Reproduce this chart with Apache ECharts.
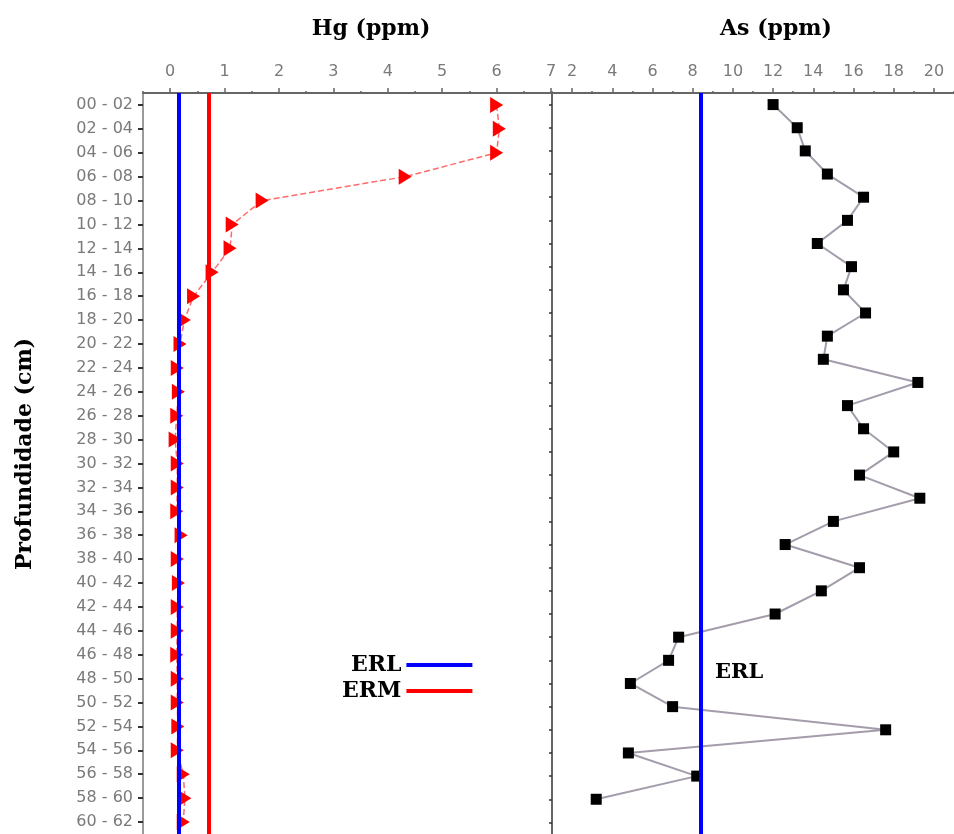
<!DOCTYPE html>
<html>
<head>
<meta charset="utf-8">
<script src="https://cdn.jsdelivr.net/npm/echarts@6/dist/echarts.min.js"></script>
<style>
html,body{margin:0;padding:0;background:#fff;}
#chart{width:954px;height:834px;}
</style>
</head>
<body>
<div id="chart"></div>
<script>
// Depth intervals (cm)
const depth = ['00 - 02','02 - 04','04 - 06','06 - 08','08 - 10','10 - 12','12 - 14','14 - 16','16 - 18','18 - 20',
  '20 - 22','22 - 24','24 - 26','26 - 28','28 - 30','30 - 32','32 - 34','34 - 36','36 - 38','38 - 40',
  '40 - 42','42 - 44','44 - 46','46 - 48','48 - 50','50 - 52','52 - 54','54 - 56','56 - 58','58 - 60','60 - 62'];
// Right panel uses one more (unlabelled) interval slot
const depthAs = depth.concat(['62 - 64']);

// Hg (ppm)
const hgPpm = [6.0, 6.05, 6.0, 4.32, 1.69, 1.14, 1.10, 0.77, 0.43, 0.26,
  0.18, 0.13, 0.15, 0.12, 0.09, 0.13, 0.13, 0.12, 0.20, 0.13,
  0.15, 0.13, 0.13, 0.12, 0.13, 0.13, 0.14, 0.13, 0.24, 0.27, 0.24];
// As (ppm)
const asPpm = [12.0, 13.2, 13.6, 14.7, 16.5, 15.7, 14.2, 15.9, 15.5, 16.6,
  14.7, 14.5, 19.2, 15.7, 16.5, 18.0, 16.3, 19.3, 15.0, 12.6,
  16.3, 14.4, 12.1, 7.3, 6.8, 4.9, 7.0, 17.6, 4.8, 8.2, 3.2];

// Guideline values
const hgERL = 0.15;
const hgERM = 0.71;
const asERL = 8.4;

// Tick values
const hgTicks = [0, 1, 2, 3, 4, 5, 6, 7];
const hgMinorTicks = [-0.5, 0.5, 1.5, 2.5, 3.5, 4.5, 5.5, 6.5];
const asTicks = [2, 4, 6, 8, 10, 12, 14, 16, 18, 20];
const asMinorTicks = [1, 3, 5, 7, 9, 11, 13, 15, 17, 19, 21];

const labelFont = { color: '#7a7a7a', fontFamily: 'DejaVu Sans', fontSize: 16 };
const serifBold = { fontFamily: 'DejaVu Serif', fontWeight: 'bold', color: '#000' };

function mainX(grid, min, max, ticks) {
  return {
    type: 'value', gridIndex: grid, position: 'top', min: min, max: max,
    axisLine: { show: true, onZero: false, lineStyle: { color: '#666', width: 2 } },
    axisTick: { show: true, customValues: ticks, length: 5, lineStyle: { color: '#666', width: 1.5 } },
    axisLabel: Object.assign({ customValues: ticks, margin: 13 }, labelFont),
    splitLine: { show: false }
  };
}
function minorX(grid, min, max, ticks) {
  return {
    type: 'value', gridIndex: grid, position: 'top', min: min, max: max,
    axisLine: { show: false, onZero: false },
    axisTick: { show: true, customValues: ticks, length: 2, lineStyle: { color: '#666', width: 1.5 } },
    axisLabel: { show: false },
    splitLine: { show: false }
  };
}

const chart = echarts.init(document.getElementById('chart'), null, { renderer: 'canvas' });
chart.setOption({
  animation: false,
  backgroundColor: '#ffffff',
  title: [
    { text: 'Hg (ppm)', left: 366, top: 13, textAlign: 'center',
      textStyle: Object.assign({ fontSize: 22 }, serifBold) },
    { text: 'As (ppm)', left: 771, top: 13, textAlign: 'center',
      textStyle: Object.assign({ fontSize: 22 }, serifBold) }
  ],
  grid: [
    { left: 143, top: 93, width: 408, height: 745 },
    { left: 552, top: 93, width: 406, height: 745 }
  ],
  xAxis: [
    mainX(0, -0.5, 7, hgTicks),
    minorX(0, -0.5, 7, hgMinorTicks),
    mainX(1, 1, 21, asTicks),
    minorX(1, 1, 21, asMinorTicks)
  ],
  yAxis: [
    { type: 'category', gridIndex: 0, data: depth, inverse: true,
      axisLine: { show: true, onZero: false, lineStyle: { color: '#9a9a9a', width: 2 } },
      axisTick: { show: true, alignWithLabel: true, length: 5, lineStyle: { color: '#333', width: 2 } },
      axisLabel: Object.assign({ margin: 10, interval: 0 }, labelFont),
      splitLine: { show: false } },
    { type: 'category', gridIndex: 1, data: depthAs, inverse: true,
      axisLine: { show: true, onZero: false, lineStyle: { color: '#666', width: 2 } },
      axisTick: { show: true, alignWithLabel: true, interval: 0, length: 3, lineStyle: { color: '#333', width: 1.5 } },
      axisLabel: { show: false },
      splitLine: { show: false } }
  ],
  legend: {
    data: ['ERL', 'ERM'], orient: 'vertical', left: 337, top: 649, align: 'right',
    icon: 'rect', itemWidth: 66, itemHeight: 4, itemGap: 4,
    textStyle: Object.assign({ fontSize: 22 }, serifBold),
    selectedMode: false
  },
  series: [
    { name: 'Hg', type: 'line', xAxisIndex: 0, yAxisIndex: 0, z: 2,
      data: hgPpm.map((v, i) => [v, depth[i]]),
      symbol: 'triangle', symbolSize: [16, 13], symbolRotate: -90,
      itemStyle: { color: '#ff0000' },
      lineStyle: { color: '#ff6a6a', width: 1.5, type: 'dashed' } },
    { name: 'ERL', type: 'line', xAxisIndex: 0, yAxisIndex: 0, z: 4, data: [],
      color: '#0000ff', itemStyle: { color: '#0000ff' }, lineStyle: { color: '#0000ff' },
      markLine: { silent: true, symbol: ['none', 'none'], label: { show: false },
        lineStyle: { color: '#0000ff', width: 4, type: 'solid' }, data: [{ xAxis: hgERL }] } },
    { name: 'ERM', type: 'line', xAxisIndex: 0, yAxisIndex: 0, z: 4, data: [],
      color: '#ff0000', itemStyle: { color: '#ff0000' }, lineStyle: { color: '#ff0000' },
      markLine: { silent: true, symbol: ['none', 'none'], label: { show: false },
        lineStyle: { color: '#ff0000', width: 4, type: 'solid' }, data: [{ xAxis: hgERM }] } },
    { name: 'As', type: 'line', xAxisIndex: 2, yAxisIndex: 1, z: 3,
      data: asPpm.map((v, i) => [v, depthAs[i]]),
      symbol: 'rect', symbolSize: 11,
      itemStyle: { color: '#000000' },
      lineStyle: { color: '#a49cab', width: 2 } },
    { name: 'ERL As', type: 'line', xAxisIndex: 2, yAxisIndex: 1, z: 2, data: [],
      markLine: { silent: true, symbol: ['none', 'none'], label: { show: false },
        lineStyle: { color: '#0000ff', width: 4, type: 'solid' }, data: [{ xAxis: asERL }] } }
  ],
  graphic: [
    { type: 'text', x: 25, y: 454, rotation: Math.PI / 2,
      style: { text: 'Profundidade (cm)', fill: '#000', fontFamily: 'DejaVu Serif', fontWeight: 'bold', fontSize: 22,
        align: 'center', verticalAlign: 'middle' } },
    { type: 'text', x: 715, y: 673,
      style: { text: 'ERL', fill: '#000', fontFamily: 'DejaVu Serif', fontWeight: 'bold', fontSize: 21,
        align: 'left', verticalAlign: 'middle' } }
  ]
});
</script>
</body>
</html>
